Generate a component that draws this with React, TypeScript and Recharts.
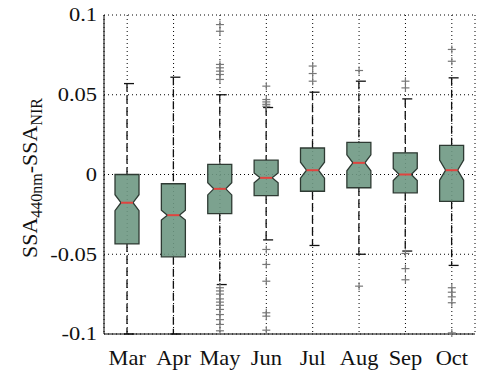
import { ComposedChart, Bar, Scatter, XAxis, YAxis, CartesianGrid } from "recharts";

// monthly spread of SSA(440nm) - SSA(NIR)
const months = ["Mar", "Apr", "May", "Jun", "Jul", "Aug", "Sep", "Oct"];
const whiskerLow = [-0.1, -0.1, -0.069, -0.041, -0.0445, -0.05, -0.048, -0.057];
const q1 = [-0.0435, -0.0516, -0.0245, -0.0132, -0.0105, -0.0083, -0.0115, -0.0168];
const median = [-0.0177, -0.0255, -0.009, -0.0021, 0.0027, 0.0073, 0.0, 0.0027];
const q3 = [0.0, -0.0058, 0.0063, 0.009, 0.0166, 0.0202, 0.0136, 0.0182];
const whiskerHigh = [0.057, 0.061, 0.05, 0.042, 0.0516, 0.0585, 0.0474, 0.0606];
// half height of the median confidence notch
const notch = [0.005, 0.0031, 0.0038, 0.0031, 0.005, 0.005, 0.0038, 0.0063];

const marOut: number[] = [];
const aprOut: number[] = [];
const mayOut = [0.094, 0.0898, 0.069, 0.0669, 0.0648, 0.0627, 0.0596, -0.071, -0.073, -0.075, -0.078, -0.08, -0.082, -0.0846, -0.0878, -0.091, -0.094, -0.098];
const junOut = [0.0554, 0.047, 0.0455, 0.044, 0.0428, -0.047, -0.0564, -0.0669, -0.0867, -0.0888, -0.0976];
const julOut = [0.068, 0.0633, 0.0585];
const augOut = [0.0652, -0.07];
const sepOut = [0.0585, 0.0543, -0.0495, -0.059, -0.066];
const octOut = [0.0784, 0.071, -0.071, -0.0738, -0.0767, -0.0804, -0.0993];
const outliers = [marOut, aprOut, mayOut, junOut, julOut, augOut, sepOut, octOut];

const yTicks = [-0.1, -0.05, 0, 0.05, 0.1];
const yTickLabels = ["-0.1", "-0.05", "0", "0.05", "0.1"];

const boxData = months.map((month, i) => ({
  month,
  lo: whiskerLow[i],
  q1: q1[i],
  med: median[i],
  q3: q3[i],
  hi: whiskerHigh[i],
  notch: notch[i],
}));

const outlierData = months.flatMap((month, i) => outliers[i].map((v) => ({ month, v })));

const FONT = "'Liberation Serif', 'Times New Roman', serif";

const NotchedBox = (props: any) => {
  const { x, y, width, height, payload } = props;
  const top = Math.min(y, y + height);
  const bottom = Math.max(y, y + height);
  const { lo, hi } = payload;
  const py = (v: number) => top + ((hi - v) / (hi - lo)) * (bottom - top);
  const cx = x + width / 2;
  const xl = x;
  const xr = x + width;
  const inset = width / 4;
  const yq3 = py(payload.q3);
  const yq1 = py(payload.q1);
  const ym = py(payload.med);
  const yn1 = py(payload.med + payload.notch);
  const yn2 = py(payload.med - payload.notch);
  const path = `M${xl},${yq3} L${xl},${yn1} L${xl + inset},${ym} L${xl},${yn2} L${xl},${yq1} L${xr},${yq1} L${xr},${yn2} L${xr - inset},${ym} L${xr},${yn1} L${xr},${yq3} Z`;
  return (
    <g>
      <line x1={cx} x2={cx} y1={top} y2={yq3} stroke="#111" strokeWidth={1.3} strokeDasharray="8 4" />
      <line x1={cx} x2={cx} y1={yq1} y2={bottom} stroke="#111" strokeWidth={1.3} strokeDasharray="8 4" />
      <line x1={cx - 3} x2={cx + 7} y1={top} y2={top} stroke="#111" strokeWidth={1.3} />
      <line x1={cx - 3} x2={cx + 7} y1={bottom} y2={bottom} stroke="#111" strokeWidth={1.3} />
      <path d={path} fill="#6e9883" fillOpacity={0.9} stroke="#2e3a33" strokeWidth={1.3} />
      <line x1={xl + inset} x2={xr - inset} y1={ym} y2={ym} stroke="#e0443f" strokeWidth={2} />
    </g>
  );
};

const PlusMark = (props: any) => {
  const { cx, cy } = props;
  return (
    <g>
      <line x1={cx - 4} x2={cx + 4} y1={cy} y2={cy} stroke="#777" strokeWidth={1.2} />
      <line x1={cx} x2={cx} y1={cy - 4} y2={cy + 4} stroke="#777" strokeWidth={1.2} />
    </g>
  );
};

const YTick = ({ x, y, payload }: any) => {
  const idx = yTicks.findIndex((t) => Math.abs(t - payload.value) < 1e-9);
  return (
    <g transform={`translate(${x},${y})`}>
      <text transform="scale(1.25,1)" textAnchor="end" dy="0.35em" fontSize={18} fontFamily={FONT} fill="#111">
        {yTickLabels[idx]}
      </text>
    </g>
  );
};

const XTick = ({ x, y, payload }: any) => (
  <g transform={`translate(${x},${y})`}>
    <text transform="scale(1.12,1)" textAnchor="middle" y={31} fontSize={20} fontFamily={FONT} fill="#111">
      {payload.value}
    </text>
  </g>
);

const YTitle = () => (
  <text transform="translate(37,178) rotate(-90)" textAnchor="middle" fontFamily={FONT} fontSize={22} fill="#111">
    SSA<tspan fontSize={16} dy={5}>440nm</tspan>
    <tspan dy={-5}>-SSA</tspan>
    <tspan fontSize={16} dy={5}>NIR</tspan>
  </text>
);

export default function App() {
  return (
    <div style={{ position: "fixed", left: 0, top: 0, width: 481, height: 375, background: "#fff" }}>
      <ComposedChart width={481} height={375} data={boxData} margin={{ top: 15, right: 6, bottom: 0, left: 0 }}>
        <CartesianGrid stroke="#000" strokeDasharray="1 3" />
        <XAxis
          dataKey="month"
          type="category"
          allowDuplicatedCategory={false}
          height={41}
          tickLine={false}
          tickSize={0}
          tickMargin={0}
          axisLine={{ stroke: "#000" }}
          tick={<XTick />}
        />
        <XAxis xAxisId="top" dataKey="month" orientation="top" height={0} tick={false} tickLine={false} axisLine={{ stroke: "#000" }} />
        <YAxis
          type="number"
          domain={[-0.1, 0.1]}
          ticks={yTicks}
          width={104}
          tickLine={false}
          tickSize={0}
          tickMargin={7}
          axisLine={{ stroke: "#000" }}
          tick={<YTick />}
          label={<YTitle />}
        />
        <YAxis yAxisId="right" orientation="right" type="number" domain={[-0.1, 0.1]} width={0} tick={false} tickLine={false} axisLine={{ stroke: "#000" }} />
        <Bar dataKey={(d: any) => [d.lo, d.hi]} barSize={24} shape={<NotchedBox />} isAnimationActive={false} />
        <Scatter data={outlierData} dataKey="v" shape={<PlusMark />} isAnimationActive={false} />
      </ComposedChart>
    </div>
  );
}
